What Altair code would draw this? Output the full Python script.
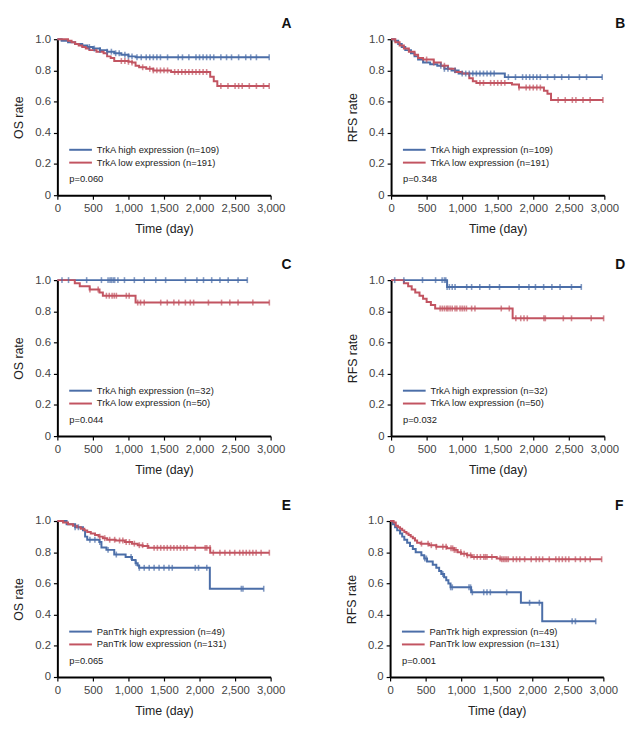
import altair as alt
import pandas as pd

BLUE = "#4b6ea8"
RED = "#c25461"
FONT = "Liberation Sans, Arial, sans-serif"

x_ticks = [0, 500, 1000, 1500, 2000, 2500, 3000]
y_ticks = [0, 0.2, 0.4, 0.6, 0.8, 1.0]

# ---------------- Panel A (OS, TrkA, whole cohort) ----------------
A_hi_t = [0, 60, 150, 250, 350, 420, 500, 600, 700, 800, 900, 1000, 1100]
A_hi_s = [1.0, 0.99, 0.98, 0.97, 0.96, 0.95, 0.94, 0.93, 0.92, 0.91, 0.90, 0.89, 0.884]
A_hi_c = [450, 520, 600, 700, 760, 820, 870, 950, 1000, 1050, 1120, 1180, 1250, 1300, 1350,
          1400, 1450, 1550, 1700, 1760, 1850, 1950, 2000, 2050, 2100, 2150, 2200, 2300, 2380,
          2450, 2550, 2650, 2720, 2800, 2980]
A_lo_t = [0, 150, 200, 250, 300, 350, 400, 450, 550, 650, 700, 750, 800, 1000, 1050, 1100,
          1150, 1250, 1350, 1600, 2150, 2200, 2250]
A_lo_s = [1.0, 0.99, 0.98, 0.97, 0.96, 0.95, 0.94, 0.93, 0.92, 0.91, 0.89, 0.88, 0.86, 0.855,
          0.85, 0.83, 0.82, 0.81, 0.80, 0.79, 0.76, 0.73, 0.70]
A_lo_c = [900, 950, 1000, 1050, 1200, 1300, 1350, 1400, 1450, 1500, 1550, 1650, 1700, 1750,
          1800, 1850, 1900, 1950, 2000, 2050, 2100, 2300, 2400, 2500, 2550, 2600, 2700, 2800,
          2900, 2980]

# ---------------- Panel B (RFS, TrkA, whole cohort) ----------------
B_hi_t = [0, 50, 100, 150, 200, 280, 330, 380, 450, 550, 650, 750, 850, 950, 1600]
B_hi_s = [1.0, 0.99, 0.97, 0.95, 0.93, 0.91, 0.89, 0.87, 0.85, 0.84, 0.83, 0.81, 0.80, 0.78, 0.757]
B_hi_c = [700, 750, 800, 900, 1000, 1050, 1100, 1150, 1200, 1250, 1300, 1350, 1400, 1450, 1650,
          1750, 1850, 1900, 1950, 2000, 2050, 2100, 2200, 2300, 2400, 2500, 2650, 2750, 2970]
B_lo_t = [0, 60, 120, 180, 250, 330, 380, 450, 600, 700, 800, 900, 1000, 1100, 1150, 1200,
          1700, 1800, 2150, 2200, 2250]
B_lo_s = [1.0, 0.98, 0.96, 0.94, 0.92, 0.90, 0.88, 0.87, 0.85, 0.83, 0.81, 0.79, 0.78, 0.75,
          0.73, 0.72, 0.71, 0.69, 0.67, 0.65, 0.61]
B_lo_c = [500, 600, 750, 1250, 1300, 1400, 1450, 1500, 1550, 1600, 1800, 1900, 1950, 2000, 2050,
          2100, 2350, 2450, 2550, 2600, 2700, 2800, 2980]

# ---------------- Panel C (OS, TrkA, subgroup) ----------------
C_hi_t = [0]
C_hi_s = [1.0]
C_hi_c = [65, 157, 412, 620, 713, 740, 760, 785, 806, 852, 944, 1083, 1222, 1384, 1523, 1801,
          1963, 2056, 2171, 2287, 2403, 2542, 2672]
C_lo_t = [0, 245, 315, 454, 593, 640, 1100]
C_lo_s = [1.0, 0.98, 0.96, 0.94, 0.92, 0.90, 0.856]
C_lo_c = [458, 574, 690, 730, 770, 800, 830, 970, 1010, 1130, 1170, 1222, 1454, 1546, 1639,
          1708, 1801, 1870, 1917, 2125, 2310, 2426, 2542, 2750, 2982]

# ---------------- Panel D (RFS, TrkA, subgroup) ----------------
D_hi_t = [0, 788]
D_hi_s = [1.0, 0.956]
D_hi_c = [51, 180, 442, 626, 718, 750, 770, 788, 820, 860, 900, 1064, 1133, 1248, 1386, 1525,
          1800, 1939, 2031, 2146, 2262, 2377, 2538, 2676]
D_lo_t = [0, 180, 240, 290, 340, 400, 450, 500, 560, 620, 1710]
D_lo_s = [1.0, 0.98, 0.96, 0.94, 0.92, 0.90, 0.88, 0.86, 0.84, 0.818, 0.755]
D_lo_c = [690, 720, 750, 780, 800, 830, 860, 900, 925, 970, 1000, 1030, 1060, 1133, 1180,
          1550, 1663, 1755, 1824, 1870, 1916, 2150, 2170, 2423, 2538, 2815, 2990]

# ---------------- Panel E (OS, PanTrk) ----------------
E_hi_t = [0, 130, 250, 360, 390, 420, 590, 620, 690, 800, 960, 1050, 1100, 1130, 1150, 2145]
E_hi_s = [1.0, 0.98, 0.96, 0.94, 0.90, 0.88, 0.865, 0.83, 0.815, 0.785, 0.77, 0.75, 0.73,
          0.715, 0.70, 0.566]
E_hi_c = [250, 296, 458, 528, 597, 713, 829, 1037, 1107, 1153, 1222, 1292, 1361, 1431, 1500,
          1570, 1616, 1940, 1986, 2102, 2588, 2611, 2903]
E_lo_t = [0, 80, 150, 220, 280, 330, 380, 420, 470, 530, 580, 640, 700, 820, 950, 1050, 1130,
          1200, 1280, 2150]
E_lo_s = [1.0, 0.99, 0.98, 0.97, 0.96, 0.95, 0.94, 0.93, 0.92, 0.91, 0.90, 0.89, 0.88, 0.875,
          0.865, 0.855, 0.845, 0.84, 0.828, 0.797]
E_lo_c = [597, 667, 736, 806, 875, 921, 968, 1014, 1083, 1153, 1199, 1268, 1361, 1407, 1454,
          1500, 1546, 1593, 1639, 1685, 1732, 1778, 1824, 1940, 2079, 2102, 2148, 2194, 2287,
          2357, 2426, 2495, 2565, 2611, 2657, 2704, 2750, 2796, 2866, 2982]

# ---------------- Panel F (RFS, PanTrk) ----------------
F_hi_t = [0, 40, 70, 100, 140, 170, 200, 240, 280, 320, 360, 440, 480, 520, 600, 650, 690, 720,
          760, 790, 820, 850, 1140, 1840, 2140]
F_hi_s = [1.0, 0.98, 0.96, 0.94, 0.92, 0.90, 0.88, 0.86, 0.84, 0.82, 0.80, 0.78, 0.76, 0.74,
          0.72, 0.70, 0.68, 0.66, 0.64, 0.62, 0.60, 0.575, 0.543, 0.476, 0.357]
F_hi_c = [488, 511, 742, 852, 875, 1110, 1133, 1157, 1317, 1363, 1410, 1640, 1962, 2100, 2561,
          2607, 2893]
F_lo_t = [0, 50, 80, 110, 140, 170, 200, 230, 260, 290, 320, 350, 380, 430, 550, 650, 800, 900,
          950, 1000, 1080, 1150, 1500, 1550]
F_lo_s = [1.0, 0.99, 0.97, 0.96, 0.95, 0.94, 0.93, 0.92, 0.91, 0.90, 0.89, 0.875, 0.86, 0.855,
          0.845, 0.835, 0.825, 0.815, 0.80, 0.79, 0.78, 0.77, 0.76, 0.755]
F_lo_c = [442, 534, 580, 650, 742, 788, 857, 880, 903, 926, 995, 1041, 1087, 1133, 1180, 1225,
          1271, 1317, 1340, 1363, 1432, 1548, 1571, 1594, 1617, 1640, 1663, 1732, 1778, 1824,
          1893, 1985, 2054, 2100, 2146, 2239, 2331, 2377, 2423, 2469, 2515, 2607, 2676, 2746,
          2815, 2976]

PANELS = [
    ("A", "OS rate", A_hi_t, A_hi_s, A_hi_c, A_lo_t, A_lo_s, A_lo_c,
     "TrkA high expression (n=109)", "TrkA low expression (n=191)", "p=0.060"),
    ("B", "RFS rate", B_hi_t, B_hi_s, B_hi_c, B_lo_t, B_lo_s, B_lo_c,
     "TrkA high expression (n=109)", "TrkA low expression (n=191)", "p=0.348"),
    ("C", "OS rate", C_hi_t, C_hi_s, C_hi_c, C_lo_t, C_lo_s, C_lo_c,
     "TrkA high expression (n=32)", "TrkA low expression (n=50)", "p=0.044"),
    ("D", "RFS rate", D_hi_t, D_hi_s, D_hi_c, D_lo_t, D_lo_s, D_lo_c,
     "TrkA high expression (n=32)", "TrkA low expression (n=50)", "p=0.032"),
    ("E", "OS rate", E_hi_t, E_hi_s, E_hi_c, E_lo_t, E_lo_s, E_lo_c,
     "PanTrk high expression (n=49)", "PanTrk low expression (n=131)", "p=0.065"),
    ("F", "RFS rate", F_hi_t, F_hi_s, F_hi_c, F_lo_t, F_lo_s, F_lo_c,
     "PanTrk high expression (n=49)", "PanTrk low expression (n=131)", "p=0.001"),
]

W, H = 216, 158


def step_value(times, surv, t):
    v = surv[0]
    for ti, si in zip(times, surv):
        if ti <= t:
            v = si
    return v


def curve_frames(times, surv, cens, group):
    end = max(cens[-1] if cens else times[-1], times[-1])
    line = pd.DataFrame({"t": list(times) + [end], "s": list(surv) + [surv[-1]], "g": group})
    ticks = pd.DataFrame({"t": cens, "s": [step_value(times, surv, c) for c in cens], "g": group})
    return line, ticks


def panel(letter, ylab, ht, hs, hc, lt, ls, lc, lab_hi, lab_lo, ptxt):
    hl, hk = curve_frames(ht, hs, hc, "high")
    ll, lk = curve_frames(lt, ls, lc, "low")
    lines = pd.concat([hl, ll])
    ticks = pd.concat([hk, lk])
    color = alt.Color("g:N", scale=alt.Scale(domain=["high", "low"], range=[BLUE, RED]), legend=None)
    x = alt.X("t:Q", scale=alt.Scale(domain=[0, 3000], nice=False),
              axis=alt.Axis(values=x_ticks, title="Time (day)", labelOverlap=False,
                            labelFlush=False, labelPadding=4, titlePadding=8,
                            labelExpr="format(datum.value, ',')"))
    y = alt.Y("s:Q", scale=alt.Scale(domain=[0, 1], nice=False),
              axis=alt.Axis(values=y_ticks, title=ylab, labelOverlap=False, labelFlush=False,
                            labelPadding=3, titlePadding=9,
                            labelExpr="datum.value == 0 ? '0' : format(datum.value, '.1f')"))
    line_layer = alt.Chart(lines).mark_line(interpolate="step-after", strokeWidth=2).encode(
        x=x, y=y, color=color, detail="g:N")
    tick_layer = alt.Chart(ticks).mark_tick(orient="vertical", size=6, thickness=1.6).encode(
        x=x, y=y, color=color)
    one = pd.DataFrame({"k": [0]})
    leg = []
    for i, (lab, col) in enumerate([(lab_hi, BLUE), (lab_lo, RED)]):
        yy = 112 + 13 * i
        leg.append(alt.Chart(one).mark_rule(color=col, strokeWidth=2).encode(
            x=alt.value(12), x2=alt.value(35), y=alt.value(yy)))
        leg.append(alt.Chart(one).mark_text(align="left", baseline="middle", fontSize=9.5,
                                            font=FONT, color="#222").encode(
            x=alt.value(40), y=alt.value(yy), text=alt.value(lab)))
    ptext = alt.Chart(one).mark_text(align="left", baseline="middle", fontSize=9.5,
                                     font=FONT, color="#222").encode(
        x=alt.value(12), y=alt.value(142), text=alt.value(ptxt))
    letter_text = alt.Chart(one).mark_text(align="center", baseline="middle", fontSize=14,
                                           fontWeight="bold", font=FONT, color="#111").encode(
        x=alt.value(W + 16), y=alt.value(-15), text=alt.value(letter))
    return alt.layer(line_layer, tick_layer, *leg, ptext, letter_text).properties(width=W, height=H)


charts = [panel(*p) for p in PANELS]
rows = [alt.hconcat(charts[i], charts[i + 1], spacing=55) for i in (0, 2, 4)]
chart = alt.vconcat(*rows, spacing=24).configure_view(stroke=None).configure_axis(
    grid=False,
    domainColor="#000",
    domainWidth=2,
    tickColor="#000",
    tickWidth=1.2,
    tickSize=4,
    labelColor="#444",
    labelFont=FONT,
    labelFontSize=11.5,
    titleFont=FONT,
    titleFontSize=12.5,
    titleFontWeight="normal",
    titleColor="#222",
)

chart.save("out.html", embed_options={"renderer": "svg", "actions": False})
